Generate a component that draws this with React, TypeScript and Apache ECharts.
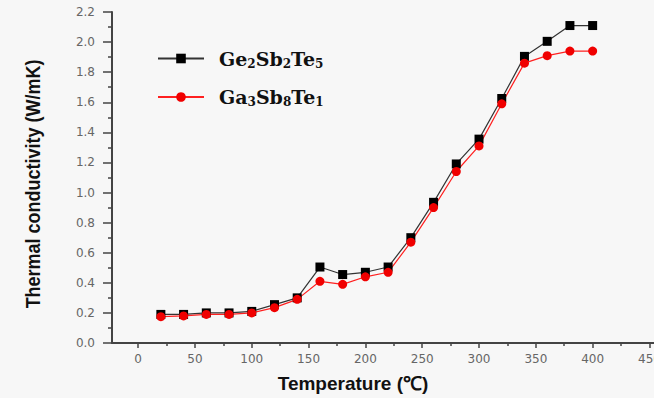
import React, { useEffect, useRef } from "react";
import * as echarts from "echarts";

const temperatures = [20, 40, 60, 80, 100, 120, 140, 160, 180, 200, 220, 240, 260, 280, 300, 320, 340, 360, 380, 400];
const gst225 = [0.19, 0.19, 0.2, 0.2, 0.21, 0.255, 0.3, 0.505, 0.455, 0.47, 0.505, 0.7, 0.935, 1.19, 1.355, 1.625, 1.905, 2.005, 2.11, 2.11];
const gst381 = [0.175, 0.18, 0.19, 0.19, 0.2, 0.235, 0.29, 0.41, 0.39, 0.44, 0.47, 0.67, 0.9, 1.14, 1.31, 1.59, 1.86, 1.91, 1.94, 1.94];
const xMajorTicks = [0, 50, 100, 150, 200, 250, 300, 350, 400, 450];
const xMinorTicks = [25, 75, 125, 175, 225, 275, 325, 375, 425];
const seriesNames = ["Ge2Sb2Te5", "Ga3Sb8Te1"];
const legendRich = ["{b|Ge}{s|2}{b|Sb}{s|2}{b|Te}{s|5}", "{b|Ga}{s|3}{b|Sb}{s|8}{b|Te}{s|1}"];

export default function App() {
  const ref = useRef<HTMLDivElement>(null);
  useEffect(() => {
    if (!ref.current) return;
    const chart = echarts.init(ref.current, null, { renderer: "svg" });
    const labelStyle = { color: "#666", fontSize: 12, fontFamily: "DejaVu Sans" };
    chart.setOption({
      animation: false,
      backgroundColor: "#f7f7f7",
      grid: { left: 112, right: 0, top: 12, bottom: 55, outerBoundsMode: "none", containLabel: false },
      legend: {
        orient: "vertical",
        left: 157,
        top: 49,
        padding: 0,
        itemWidth: 46,
        itemHeight: 12,
        itemGap: 18,
        data: seriesNames,
        formatter: (name: string) => legendRich[seriesNames.indexOf(name)],
        textStyle: {
          padding: [0, 0, 0, 10],
          rich: {
            b: { fontFamily: "DejaVu Serif", fontWeight: "bold", fontSize: 19, lineHeight: 22, color: "#111" },
            s: { fontFamily: "DejaVu Serif", fontWeight: "bold", fontSize: 12, lineHeight: 10, verticalAlign: "bottom", color: "#111" },
          },
        },
      },
      xAxis: [
        {
          type: "value",
          min: -23,
          max: 454,
          axisLine: { show: true, onZero: false, lineStyle: { color: "#444", width: 2 } },
          axisTick: { show: true, length: 5, customValues: xMajorTicks, lineStyle: { color: "#444", width: 1.5 } },
          axisLabel: { ...labelStyle, margin: 10, customValues: xMajorTicks },
          splitLine: { show: false },
        },
        {
          type: "value",
          min: -23,
          max: 454,
          position: "bottom",
          axisLine: { show: false, onZero: false },
          axisTick: { show: true, length: 3, customValues: xMinorTicks, lineStyle: { color: "#444", width: 1.5 } },
          axisLabel: { show: false },
          splitLine: { show: false },
        },
      ],
      yAxis: {
        type: "value",
        min: 0,
        max: 2.2,
        interval: 0.2,
        axisLine: { show: true, onZero: false, lineStyle: { color: "#444", width: 2 } },
        axisTick: { show: true, length: 9, lineStyle: { color: "#444", width: 1.5 } },
        minorTick: { show: true, splitNumber: 2, length: 4, lineStyle: { color: "#444", width: 1.5 } },
        axisLabel: { ...labelStyle, margin: 17, formatter: (v: number) => v.toFixed(1) },
        splitLine: { show: false },
      },
      graphic: [
        {
          type: "text",
          x: 33,
          y: 184,
          rotation: Math.PI / 2,
          scaleY: 1.15,
          style: {
            text: "Thermal conductivity (W/mK)",
            font: "bold 18px 'Liberation Sans', Arial, sans-serif",
            fill: "#111",
            textAlign: "center",
            textVerticalAlign: "middle",
          },
        },
        {
          type: "text",
          x: 353,
          y: 383,
          style: {
            text: "Temperature (℃)",
            font: "bold 19px 'Liberation Sans', Arial, sans-serif",
            fill: "#111",
            textAlign: "center",
            textVerticalAlign: "middle",
          },
        },
      ],
      series: [
        {
          name: seriesNames[0],
          type: "line",
          data: temperatures.map((t, i) => [t, gst225[i]]),
          symbol: "rect",
          symbolSize: 9,
          itemStyle: { color: "#000" },
          lineStyle: { color: "#333", width: 1.2 },
        },
        {
          name: seriesNames[1],
          type: "line",
          data: temperatures.map((t, i) => [t, gst381[i]]),
          symbol: "circle",
          symbolSize: 9,
          itemStyle: { color: "#f00000" },
          lineStyle: { color: "#ff2020", width: 1.2 },
        },
      ],
    });
    return () => chart.dispose();
  }, []);
  return <div ref={ref} style={{ width: 654, height: 398, position: "absolute", left: 0, top: 0 }} />;
}
